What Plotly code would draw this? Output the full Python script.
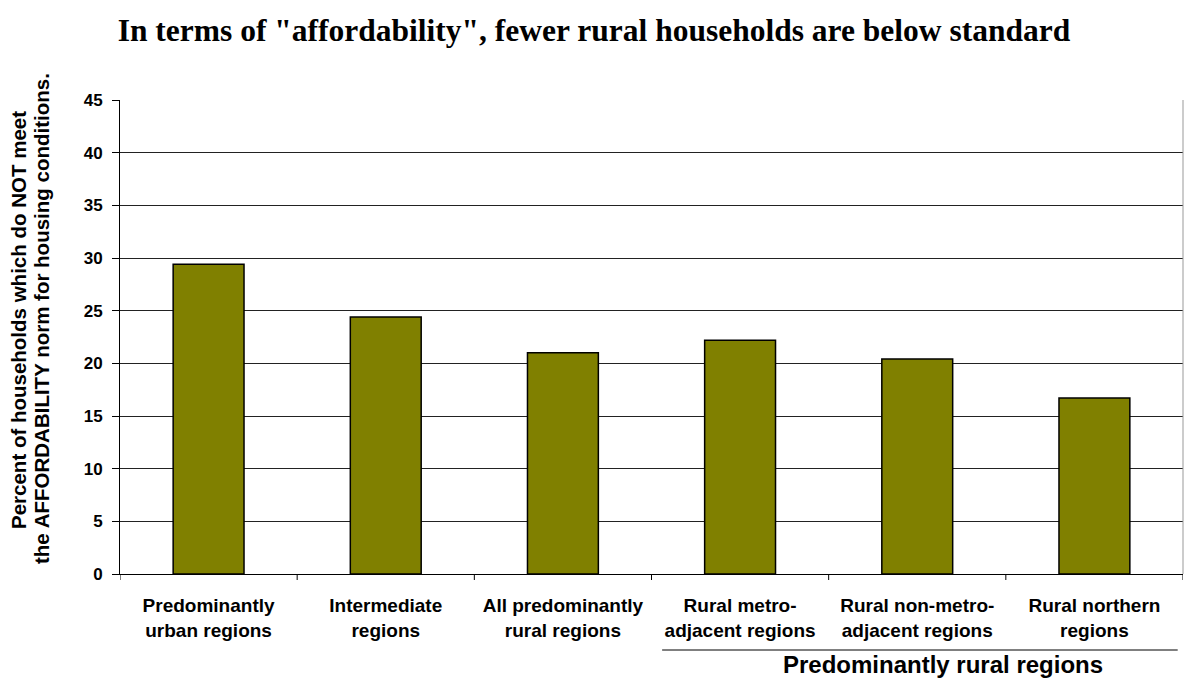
import plotly.graph_objects as go

categories = [
    "Predominantly<br>urban regions",
    "Intermediate<br>regions",
    "All predominantly<br>rural regions",
    "Rural metro-<br>adjacent regions",
    "Rural non-metro-<br>adjacent regions",
    "Rural northern<br>regions",
]
values = [29.4, 24.4, 21.0, 22.2, 20.4, 16.7]
y_ticks = [0, 5, 10, 15, 20, 25, 30, 35, 40, 45]
title_text = 'In terms of "affordability", fewer rural households are below standard'
ytitle_lines = ["Percent of households which do NOT meet",
                "the AFFORDABILITY norm for housing conditions."]
group_label = "Predominantly rural regions"

fig = go.Figure()
fig.add_trace(go.Bar(
    x=list(range(len(categories))), y=values,
    marker=dict(color="#808000", line=dict(color="#000000", width=1.5)),
))

L, R, T, B = 120, 2, 100, 107
W, H = 1185, 681
ph = H - T - B
pw = W - L - R

fig.update_layout(
    width=W, height=H,
    margin=dict(l=L, r=R, t=T, b=B),
    paper_bgcolor="white", plot_bgcolor="white",
    bargap=0.6, showlegend=False,
    title=dict(text="<b>" + title_text + "</b>", x=(594) / W, xanchor="center",
               y=1 - 30 / H, yanchor="middle",
               font=dict(family="Liberation Serif", size=31.5, color="black")),
    font=dict(family="Liberation Sans", color="black"),
)
fig.update_xaxes(
    type="linear", range=[-0.5, 5.5],
    tickvals=list(range(len(categories))),
    ticktext=["<b>" + c + "</b>" for c in categories],
    tickfont=dict(size=19, family="Liberation Sans", color="black"),
    ticklabelstandoff=14,
    showgrid=False, zeroline=False,
    showline=True, linecolor="black", linewidth=1,
    ticks="", fixedrange=True,
)
# boundary tick marks between categories
for b in [-0.5, 0.5, 1.5, 2.5, 3.5, 4.5, 5.5]:
    fig.add_shape(type="line", xref="x", yref="paper", x0=b, x1=b, y0=0, y1=-6 / ph,
                  line=dict(color="black", width=1))
fig.update_yaxes(
    range=[0, 45], tickvals=y_ticks,
    ticktext=["<b>%d</b>" % v for v in y_ticks],
    tickfont=dict(size=17, family="Liberation Sans", color="black"),
    showgrid=True, gridcolor="#222222", gridwidth=1,
    zeroline=False, showline=True, linecolor="black", linewidth=1,
    ticks="outside", ticklen=7, tickcolor="black",
    ticklabelstandoff=6,
)
# right border of plot area
fig.add_shape(type="line", xref="paper", yref="paper", x0=1, x1=1, y0=0, y1=1,
              line=dict(color="#999999", width=1))

# y-axis title lines
fig.add_annotation(text="<b>" + ytitle_lines[0] + "</b>", textangle=-90,
                   xref="paper", yref="paper",
                   x=(18 - L) / pw, y=(H - B - 320) / ph,
                   xanchor="center", yanchor="middle", showarrow=False,
                   font=dict(size=20.5, family="Liberation Sans", color="black"))
fig.add_annotation(text="<b>" + ytitle_lines[1] + "</b>", textangle=-90,
                   xref="paper", yref="paper",
                   x=(41 - L) / pw, y=(H - B - 319) / ph,
                   xanchor="center", yanchor="middle", showarrow=False,
                   font=dict(size=20.5, family="Liberation Sans", color="black"))
# group bracket line and label
fig.add_shape(type="line", xref="x", yref="paper", x0=2.56, x1=5.47,
              y0=(H - B - 650) / ph, y1=(H - B - 650) / ph,
              line=dict(color="black", width=1))
fig.add_annotation(text="<b>" + group_label + "</b>", xref="x", yref="paper",
                   x=(943 - L) / (pw / 6) - 0.5, y=(H - B - 664) / ph,
                   xanchor="center", yanchor="middle",
                   showarrow=False,
                   font=dict(size=24, family="Liberation Sans", color="black"))

fig.write_html("out.html")
